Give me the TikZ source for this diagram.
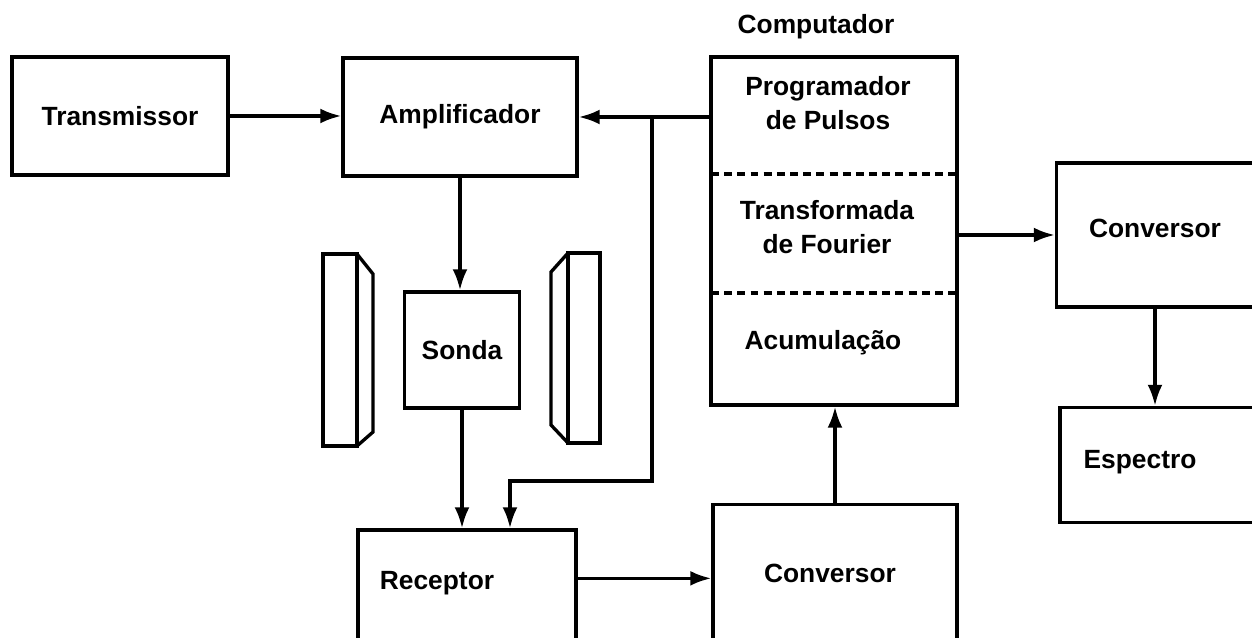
\documentclass[tikz,border=0pt]{standalone}
\usepackage{fontspec}
\setmainfont{Liberation Sans}
\usetikzlibrary{arrows.meta,calc}

\begin{document}
\begin{tikzpicture}[x=0.02cm, y=-0.02cm, >={Latex[length=12pt,width=8.5pt]},
    line width=1.9pt,
    box/.style={draw, rectangle, inner sep=0pt, line width=1.9pt, font=\fontsize{15}{19}\selectfont\bfseries},
    lbl/.style={inner sep=0pt, align=center, font=\fontsize{15}{19}\selectfont\bfseries}]
    \useasboundingbox (0,0) rectangle (1252,638);
    \clip (0,0) rectangle (1252,638);

    % blocos principais
    \node[box, minimum width=4.32cm, minimum height=2.36cm] (trans) at (120,116) {Transmissor};
    \node[box, minimum width=4.68cm, minimum height=2.36cm] (ampl) at (460,117) {Amplificador};
    \node[box, minimum width=4.92cm, minimum height=6.96cm] (comp) at (834,231) {};
    \node[box, minimum width=2.30cm, minimum height=2.32cm] (sonda) at (462,350) {Sonda};
    \node[box, minimum width=4.36cm, minimum height=3.40cm] (recep) at (467,615) {};
    \node[box, minimum width=4.88cm, minimum height=3.90cm] (convb) at (835,602) {};
    \node[box, minimum width=4.86cm, minimum height=2.88cm] (convd) at (1178,235) {};
    \node[box, minimum width=4.80cm, minimum height=2.30cm] (espec) at (1180,465) {};

    % textos
    \node[lbl] (comptit) at (816,27) {Computador};
    \node[lbl] (prog) at (828,103) {Programador\\de Pulsos};
    \node[lbl] (four) at (827,227) {Transformada\\de Fourier};
    \node[lbl] (acum) at (823,343) {Acumulação};
    \node[lbl] (receptxt) at (437,583) {Receptor};
    \node[lbl] (convbtxt) at (830,573) {Conversor};
    \node[lbl] (convdtxt) at (1155,228) {Conversor};
    \node[lbl] (espectxt) at (1140,462) {Espectro};

    % divisoes do computador
    \draw[dash pattern=on 4.5pt off 3pt] (711,174) -- (957,174);
    \draw[dash pattern=on 4.5pt off 3pt] (711,293) -- (957,293);

    % ima
    \draw (323,254) rectangle (357,446);
    \draw (357,254) -- (373,274) -- (373,432) -- (357,446);
    \draw (568,253) rectangle (600,443);
    \draw (568,253) -- (551,272) -- (551,425) -- (568,443);

    % ligacoes
    \coordinate (jn) at (652,117);
    \coordinate (rcpin) at (510,481);
    \coordinate (rcout) at ($(recep.north east)+(0,50)$);
    \draw[->] (trans.east) -- (trans.east -| ampl.west);
    \draw[->] (ampl.east -| comp.west) -- (ampl.east);
    \draw[->] (jn) |- (rcpin) -- (rcpin |- recep.north);
    \draw[->] (ampl.south) -- (ampl.south |- sonda.north);
    \draw[->] (sonda.south) -- (sonda.south |- recep.north);
    \draw[->] (rcout) -- (rcout -| convb.west);
    \draw[->] (convb.north) -- (convb.north |- comp.south);
    \draw[->] (comp.east |- convd.west) -- (convd.west);
    \draw[->] (convd.south -| convdtxt) -- (espec.north -| convdtxt);
\end{tikzpicture}
\end{document}
